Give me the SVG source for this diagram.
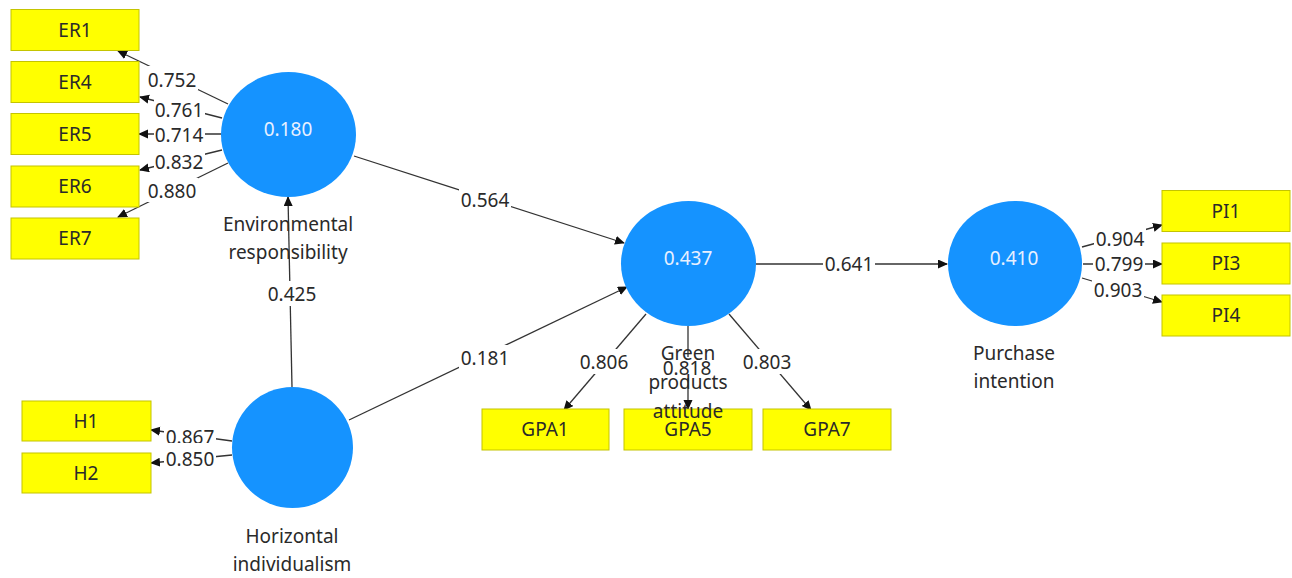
<svg xmlns="http://www.w3.org/2000/svg" width="1292" height="578" viewBox="0 0 1292 578">
<style>
text{font-family:"Noto Sans","Open Sans","DejaVu Sans",sans-serif;font-size:19px;fill:#2a2a2a;text-anchor:middle}
.box{fill:#ffff00;stroke:#c4c400;stroke-width:1}
.lv{fill:#1593ff}
.val{fill:#e8f0ff}
.edge{stroke:#333;stroke-width:1.3;fill:none}
.arr{marker-end:url(#ah)}
.bg{fill:#fff}
</style>
<defs>
<marker id="ah" markerWidth="10" markerHeight="10" refX="9" refY="4.5" orient="auto" markerUnits="userSpaceOnUse">
<path d="M0,0 L10,4.5 L0,9 z" fill="#111"/>
</marker>
</defs>
<rect width="1292" height="578" fill="#fff"/>

<g id="connectors">
<path class="edge arr" d="M228,104 L118,51"/>
<path class="edge arr" d="M222,118 L140,97"/>
<path class="edge arr" d="M221,134 L139,134"/>
<path class="edge arr" d="M222,150 L140,170"/>
<path class="edge arr" d="M228,163 L118,217"/>
<path class="edge arr" d="M292,387 L288,197"/>
<path class="edge arr" d="M354,156 L624,243"/>
<path class="edge arr" d="M349,420 L627,287"/>
<path class="edge arr" d="M756,264 L947,264"/>
<path class="edge arr" d="M646,314 L564,410"/>
<path class="edge arr" d="M688,326 L688,409"/>
<path class="edge arr" d="M729,314 L811,410"/>
<path class="edge arr" d="M1082,247 L1162,225"/>
<path class="edge arr" d="M1083,264 L1162,264"/>
<path class="edge arr" d="M1082,278 L1162,302"/>
<path class="edge arr" d="M232,441 L151,430"/>
<path class="edge arr" d="M232,455 L151,463"/>

<g id="edge-labels">
<rect class="bg" x="147" y="66" width="51" height="24"/><text x="172" y="87">0.752</text>
<rect class="bg" x="154" y="97" width="51" height="22"/><text x="179" y="117">0.761</text>
<rect class="bg" x="154" y="123" width="51" height="22"/><text x="179" y="142">0.714</text>
<rect class="bg" x="154" y="149" width="51" height="22"/><text x="179" y="169">0.832</text>
<rect class="bg" x="147" y="178" width="51" height="24"/><text x="172" y="198">0.880</text>
<rect class="bg" x="266" y="281" width="52" height="25"/><text x="292" y="301">0.425</text>
<rect class="bg" x="459" y="187" width="52" height="25"/><text x="485" y="207">0.564</text>
<rect class="bg" x="459" y="345" width="52" height="25"/><text x="485" y="365">0.181</text>
<rect class="bg" x="823" y="251" width="52" height="25"/><text x="849" y="271">0.641</text>
<rect class="bg" x="578" y="349" width="52" height="25"/><text x="604" y="369">0.806</text>
<rect class="bg" x="741" y="349" width="52" height="25"/><text x="767" y="369">0.803</text>
<rect class="bg" x="661" y="357" width="52" height="21"/><text x="687" y="375">0.818</text>
<rect class="bg" x="1094" y="227" width="52" height="22"/><text x="1120" y="246">0.904</text>
<rect class="bg" x="1093" y="252" width="52" height="24"/><text x="1119" y="271">0.799</text>
<rect class="bg" x="1092" y="279" width="52" height="22"/><text x="1118" y="297">0.903</text>
<rect class="bg" x="164" y="425" width="52" height="22"/><text x="190" y="444">0.867</text>
<rect class="bg" x="164" y="443" width="52" height="26"/><text x="190" y="466">0.850</text>
</g>
</g>

<g id="ER1"><rect class="box" x="11" y="9.5" width="128" height="41"/><text x="75" y="36.5">ER1</text></g>
<g id="ER4"><rect class="box" x="11" y="61.5" width="128" height="41"/><text x="75" y="88.5">ER4</text></g>
<g id="ER5"><rect class="box" x="11" y="113.5" width="128" height="41"/><text x="75" y="140.5">ER5</text></g>
<g id="ER6"><rect class="box" x="11" y="166" width="128" height="41"/><text x="75" y="193">ER6</text></g>
<g id="ER7"><rect class="box" x="11" y="218" width="128" height="41"/><text x="75" y="245">ER7</text></g>

<g id="H1"><rect class="box" x="22" y="401" width="129" height="40"/><text x="86" y="428">H1</text></g>
<g id="H2"><rect class="box" x="22" y="453" width="129" height="40"/><text x="86" y="480">H2</text></g>

<g id="GPA1"><rect class="box" x="482" y="409" width="127" height="41"/><text x="545" y="436">GPA1</text></g>
<g id="GPA5"><rect class="box" x="624" y="409" width="128" height="41"/><text x="688" y="436">GPA5</text></g>
<g id="GPA7"><rect class="box" x="763" y="409" width="128" height="41"/><text x="827" y="436">GPA7</text></g>

<g id="PI1"><rect class="box" x="1162" y="190.5" width="128" height="41"/><text x="1226" y="217.5">PI1</text></g>
<g id="PI3"><rect class="box" x="1162" y="243" width="128" height="41"/><text x="1226" y="270">PI3</text></g>
<g id="PI4"><rect class="box" x="1162" y="295" width="128" height="41"/><text x="1226" y="322">PI4</text></g>

<g id="ER">
<ellipse class="lv" cx="288.5" cy="134.5" rx="67.5" ry="62.5"/>
<text class="val" x="288" y="136">0.180</text>
<text x="288" y="231">Environmental</text>
<text x="288" y="259">responsibility</text>
</g>
<g id="HI">
<circle class="lv" cx="292.5" cy="447.5" r="60.5"/>
<text x="292" y="543">Horizontal</text>
<text x="292" y="571">individualism</text>
</g>
<g id="GPA">
<ellipse class="lv" cx="688.5" cy="263.5" rx="67.5" ry="62.5"/>
<text class="val" x="688" y="265">0.437</text>
<text x="688" y="360">Green</text>
<text x="688" y="389">products</text>
<text x="688" y="418">attitude</text>
</g>
<g id="PI">
<ellipse class="lv" cx="1015" cy="263.5" rx="67" ry="62.5"/>
<text class="val" x="1014" y="265">0.410</text>
<text x="1014" y="360">Purchase</text>
<text x="1014" y="388">intention</text>
</g>
</svg>
